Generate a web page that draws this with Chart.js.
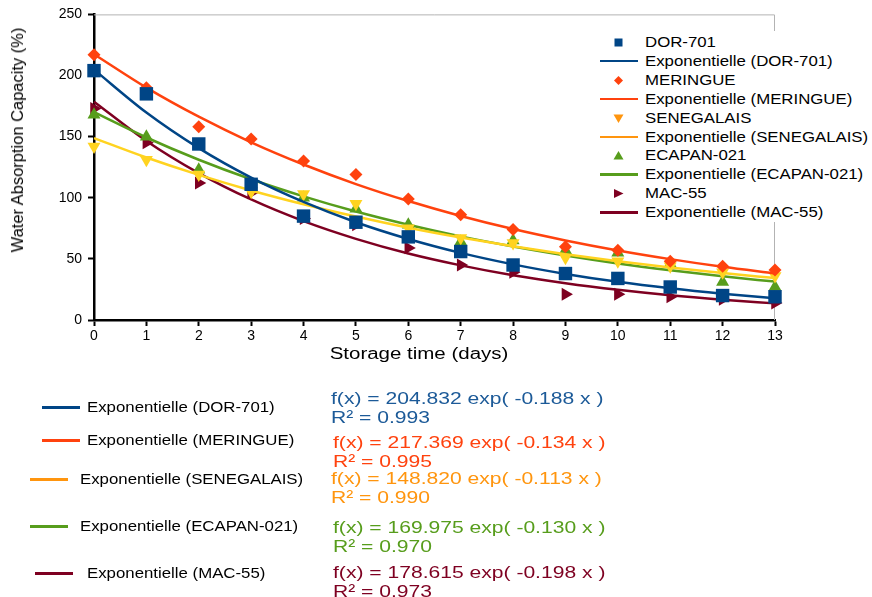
<!DOCTYPE html>
<html>
<head>
<meta charset="utf-8">
<script src="https://cdn.jsdelivr.net/npm/chart.js@4.4.0/dist/chart.umd.min.js"></script>
<style>
  body { margin: 0; background: #fff; font-family: "Liberation Sans", Arial, sans-serif; }
  #wrap { position: relative; width: 872px; height: 597px; overflow: hidden; }
  canvas { display: block; }
  #legend { position: absolute; left: 596px; top: 31px; width: 276px; height: 191px; background: #fff; }
  .lg { position: absolute; left: 0; height: 19px; width: 276px; font-size: 14px; line-height: 19px; color: #000; white-space: nowrap; }
  .lg span { position: absolute; left: 49px; top: 0; transform: scaleX(1.2); transform-origin: left center; }
  #trends { position: absolute; left: 0; top: 0; }
  .ln { position: absolute; height: 3px; width: 38px; }
  .nm { position: absolute; font-size: 14px; color: #000; line-height: 16px; white-space: nowrap; transform: scaleX(1.2); transform-origin: left center; }
  .eq { position: absolute; font-size: 17px; line-height: 19px; white-space: nowrap; transform: scaleX(1.24); transform-origin: left center; }
  .ax { position: absolute; color: #000; white-space: nowrap; }
</style>
</head>
<body>
<div id="wrap">
  <canvas id="c" width="872" height="597"></canvas>
  <div id="legend"></div>
  <div id="trends"></div>
  <div id="xTitle" class="ax"></div>
  <div id="yTitle" class="ax"></div>
</div>
<script>
const days = [0, 1, 2, 3, 4, 5, 6, 7, 8, 9, 10, 11, 12, 13];
const varieties = ['DOR-701', 'MERINGUE', 'SENEGALAIS', 'ECAPAN-021', 'MAC-55'];

// measured water absorption capacity (%)
const dor701     = [204, 185, 144, 111, 85, 80, 68, 56, 45, 38, 34, 27, 20, 19];
const meringue   = [217, 190, 158, 148, 130, 119, 99, 86, 74, 60, 57, 48, 44, 41];
const senegalais = [142, 131, 119, 105, 103, 95, 75, 67, 63, 51, 48, 44, 39, 36];
const ecapan021  = [168, 150, 123, 111, 100, 91, 78, 64, 65, 57, 55, 46, 31, 27];
const mac55      = [173, 145, 112, 104, 83, 78, 59, 45, 39, 21, 21, 19, 17, 14];

// exponential trend curves as drawn
const dorTrend = [204.8, 169.7, 140.6, 116.5, 96.6, 80.0, 66.3, 54.9, 45.5, 37.7, 31.2, 25.9, 21.5, 17.8];
const merTrend = [217.4, 190.1, 166.3, 145.4, 127.2, 111.2, 97.3, 85.1, 74.4, 65.1, 56.9, 49.8, 43.5, 38.1];
const senTrend = [148.8, 132.9, 118.7, 106.0, 94.7, 84.6, 75.5, 67.5, 60.3, 53.8, 48.1, 42.9, 38.4, 34.3];
const ecaTrend = [170.0, 149.3, 131.1, 115.1, 101.1, 88.7, 77.9, 68.4, 60.1, 52.8, 46.3, 40.7, 35.7, 31.4];
const macTrend = [178.6, 146.5, 120.2, 98.6, 80.9, 66.4, 54.4, 44.7, 36.6, 30.1, 24.7, 20.2, 16.6, 13.6];

// trend equation coefficients: f(x) = a exp(b x)
const coefA = [204.832, 217.369, 148.820, 169.975, 178.615];
const coefB = [-0.188, -0.134, -0.113, -0.130, -0.198];
const rSquared = [0.993, 0.995, 0.990, 0.970, 0.973];

const yTicks = [0, 50, 100, 150, 200, 250];
const xTitleText = 'Storage time (days)';
const yTitleText = 'Water Absorption Capacity (%)';

const plotColors = ['#004586', '#ff420e', '#ffd320', '#579d1c', '#7e0021'];
const keyColors = ['#004586', '#ff420e', '#ff950e', '#579d1c', '#7e0021'];
const eqColors = ['#1c5a98', '#ff420e', '#ff950e', '#579d1c', '#7e0021'];
const markers = [
  { style: 'rect', rot: 0, r: 9.5 },
  { style: 'rectRot', rot: 0, r: 6.5 },
  { style: 'triangle', rot: 180, r: 7.5 },
  { style: 'triangle', rot: 0, r: 7.5 },
  { style: 'triangle', rot: 90, r: 7.5 }
];

const measured = [dor701, meringue, senegalais, ecapan021, mac55];
const trends = [dorTrend, merTrend, senTrend, ecaTrend, macTrend];

function pts(vals) {
  return vals.map((v, i) => ({ x: days[i], y: v }));
}

const datasets = [];
varieties.forEach((name, i) => {
  datasets.push({
    label: name,
    data: pts(measured[i]),
    showLine: false,
    pointStyle: markers[i].style,
    pointRotation: markers[i].rot,
    pointRadius: markers[i].r,
    pointHoverRadius: markers[i].r,
    pointBackgroundColor: plotColors[i],
    pointBorderColor: plotColors[i],
    pointBorderWidth: 0,
    clip: false
  });
  datasets.push({
    label: 'Exponentielle (' + name + ')',
    data: pts(trends[i]),
    borderColor: plotColors[i],
    borderWidth: 2.5,
    pointRadius: 0,
    cubicInterpolationMode: 'monotone',
    fill: false,
    clip: false
  });
});

const frame = {
  id: 'frame',
  beforeDatasetsDraw(chart) {
    const { ctx, chartArea: a } = chart;
    ctx.save();
    ctx.strokeStyle = '#b3b3b3';
    ctx.lineWidth = 1;
    ctx.beginPath();
    ctx.moveTo(a.left, a.top + 0.5);
    ctx.lineTo(a.right - 0.5, a.top + 0.5);
    ctx.lineTo(a.right - 0.5, a.bottom);
    ctx.stroke();
    ctx.restore();
  }
};

const tickFont = { family: '"Liberation Sans", Arial, sans-serif', size: 14 };

new Chart(document.getElementById('c'), {
  type: 'line',
  data: { datasets },
  plugins: [frame],
  options: {
    responsive: false,
    animation: false,
    layout: { padding: { left: 0, top: 12, right: 97, bottom: 227 } },
    plugins: { legend: { display: false }, tooltip: { enabled: false } },
    scales: {
      x: {
        type: 'linear',
        min: 0,
        max: 13,
        ticks: { stepSize: 1, color: '#000', font: tickFont, padding: 2 },
        grid: { drawOnChartArea: false, tickLength: 6, tickColor: '#000', tickWidth: 2 },
        border: { color: '#000', width: 2.5 },
        afterFit(s) { s.height = 50; }
      },
      y: {
        min: 0,
        max: 250,
        afterBuildTicks(s) { s.ticks = yTicks.map(v => ({ value: v })); },
        ticks: { color: '#000', font: tickFont, padding: 6 },
        grid: { drawOnChartArea: false, tickLength: 6, tickColor: '#000', tickWidth: 2 },
        border: { color: '#000', width: 2.5 },
        afterFit(s) { s.width = 94; }
      }
    }
  }
});

// axis titles
const xt = document.getElementById('xTitle');
xt.textContent = xTitleText;
xt.style.cssText += 'left:419px;top:354px;font-size:16px;line-height:18px;transform:translate(-50%,-50%) scaleX(1.28);';
const yt = document.getElementById('yTitle');
yt.textContent = yTitleText;
yt.style.cssText += 'left:18px;top:140px;font-size:16px;line-height:18px;transform:translate(-50%,-50%) rotate(-90deg) scaleX(1.03);';

// legend inside the plot
function markerSvg(i) {
  const c = keyColors[i];
  let shape;
  if (i === 0) shape = '<rect x="5.5" y="5.5" width="8" height="8" fill="' + c + '"/>';
  else if (i === 1) shape = '<polygon points="9.5,5 14,9.5 9.5,14 5,9.5" fill="' + c + '"/>';
  else if (i === 2) shape = '<polygon points="4.5,5.5 14.5,5.5 9.5,14" fill="' + c + '"/>';
  else if (i === 3) shape = '<polygon points="4.5,13.5 14.5,13.5 9.5,5" fill="' + c + '"/>';
  else shape = '<polygon points="5,5 5,14 14.5,9.5" fill="' + c + '"/>';
  return '<svg width="19" height="19">' + shape + '</svg>';
}

const legend = document.getElementById('legend');
varieties.forEach((name, i) => {
  const top1 = 2 + i * 37.8;
  const top2 = top1 + 18.9;
  legend.insertAdjacentHTML('beforeend',
    `<div class="lg" style="top:${top1}px"><div style="position:absolute;left:13px;top:0">${markerSvg(i)}</div><span>${name}</span></div>` +
    `<div class="lg" style="top:${top2}px"><div style="position:absolute;left:4px;top:8px;width:38px;height:2.5px;background:${keyColors[i]}"></div><span>Exponentielle (${name})</span></div>`);
});

// trend equations block under the chart
const rowY = [407, 440, 479, 526, 573];
const lineX = [42, 42, 30, 30, 35];
const nameX = [87, 87, 80, 80, 87];
const eqX = [331, 333, 331, 333, 333];
const eqY = [389, 433, 469, 518, 563];
const trendsDiv = document.getElementById('trends');
varieties.forEach((name, i) => {
  const eq = `f(x) = ${coefA[i].toFixed(3)} exp( ${coefB[i].toFixed(3)} x )`;
  const r2 = `R² = ${rSquared[i].toFixed(3)}`;
  trendsDiv.insertAdjacentHTML('beforeend',
    `<div class="ln" style="left:${lineX[i]}px;top:${rowY[i] - 1}px;background:${keyColors[i]}"></div>` +
    `<div class="nm" style="left:${nameX[i]}px;top:${rowY[i] - 8}px">Exponentielle (${name})</div>` +
    `<div class="eq" style="left:${eqX[i]}px;top:${eqY[i]}px;color:${eqColors[i]}">${eq}<br>${r2}</div>`);
});
</script>
</body>
</html>
